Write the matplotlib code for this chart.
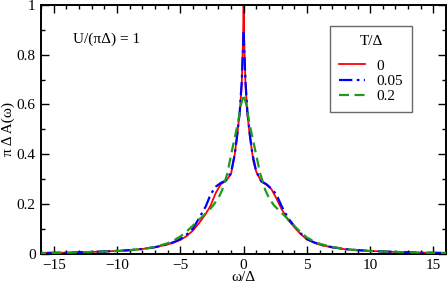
import matplotlib
matplotlib.use("Agg")
import matplotlib.pyplot as plt
from matplotlib.ticker import MultipleLocator, FixedLocator

plt.rcParams["font.family"] = ["Liberation Serif", "DejaVu Serif"]

# spectral function data
w_t0 = [-16, -14, -12, -10, -9, -8, -7, -6, -5.5, -5, -4.5, -4, -3.5, -3, -2.6, -2.2, -1.8,
        -1.4, -1.0, -0.7, -0.5, -0.3, -0.15, -0.05, 0,
        0.05, 0.15, 0.3, 0.5, 0.78, 1.0, 1.4, 1.8, 2.2, 2.6, 3.0, 3.5, 4.0, 4.5, 5, 5.5, 6,
        7, 8, 9, 10, 12, 14, 16]
a_t0 = [0.004, 0.005, 0.008, 0.012, 0.015, 0.020, 0.027, 0.038, 0.046, 0.056, 0.072, 0.094,
        0.125, 0.160, 0.195, 0.245, 0.280, 0.293, 0.320, 0.400, 0.480, 0.570, 0.680, 0.850, 1.0,
        0.850, 0.680, 0.560, 0.470, 0.370, 0.330, 0.290, 0.278, 0.260, 0.222, 0.180, 0.137,
        0.108, 0.080, 0.058, 0.047, 0.037, 0.026, 0.019, 0.015, 0.012, 0.008, 0.005, 0.004]

w_t005 = [-16, -14, -12, -10, -9, -8, -7, -6, -5.5, -5, -4.5, -4, -3.5, -3, -2.6, -2.2, -1.8,
          -1.4, -1.0, -0.7, -0.5, -0.3, -0.15, -0.05, 0,
          0.05, 0.15, 0.3, 0.5, 0.7, 1.0, 1.4, 1.8, 2.2, 2.6, 3.0, 3.5, 4.0, 4.5, 5, 5.5, 6,
          7, 8, 9, 10, 12, 14, 16]
a_t005 = [0.004, 0.005, 0.008, 0.012, 0.015, 0.020, 0.027, 0.039, 0.048, 0.060, 0.078, 0.102,
          0.145, 0.190, 0.240, 0.270, 0.285, 0.295, 0.325, 0.400, 0.480, 0.575, 0.690, 0.820, 0.89,
          0.820, 0.690, 0.570, 0.475, 0.400, 0.330, 0.292, 0.280, 0.262, 0.238, 0.192, 0.145,
          0.112, 0.083, 0.060, 0.048, 0.038, 0.027, 0.020, 0.015, 0.012, 0.008, 0.005, 0.004]

w_t02 = [-16, -14, -12, -10, -9, -8, -7, -6, -5.5, -5, -4.5, -4, -3.6, -3.2, -2.8, -2.4, -2.0,
         -1.7, -1.3, -0.9, -0.6, -0.4, -0.25, -0.1, 0,
         0.1, 0.25, 0.4, 0.6, 0.9, 1.3, 1.7, 2.0, 2.4, 2.8, 3.2, 3.6, 4.0, 4.5, 5, 5.5, 6,
         7, 8, 9, 10, 12, 14, 16]
a_t02 = [0.004, 0.005, 0.008, 0.012, 0.015, 0.020, 0.028, 0.043, 0.055, 0.070, 0.090, 0.114,
         0.135, 0.152, 0.172, 0.195, 0.224, 0.256, 0.320, 0.420, 0.490, 0.540, 0.590, 0.620, 0.63,
         0.620, 0.590, 0.540, 0.490, 0.420, 0.325, 0.258, 0.225, 0.195, 0.175, 0.155, 0.135,
         0.112, 0.088, 0.066, 0.052, 0.041, 0.028, 0.020, 0.015, 0.012, 0.008, 0.005, 0.004]

x_ticks = [-15, -10, -5, 0, 5, 10, 15]
y_ticks = [0, 0.2, 0.4, 0.6, 0.8, 1.0]
y_labels = ["0", "0.2", "0.4", "0.6", "0.8", "1"]

FS = 11

fig = plt.figure(figsize=(4.47, 2.85), dpi=100)
ax = fig.add_axes([0.092, 0.109, 0.906, 0.874])


def plot_from_peak(w, a, **kw):
    # draw each half starting at the peak so the dash pattern shows the tip
    i = a.index(max(a))
    label = kw.pop("label")
    ax.plot(w[:i + 1][::-1], a[:i + 1][::-1], label=label, **kw)
    ax.plot(w[i:], a[i:], **kw)


ax.plot(w_t0, a_t0, color="#ff0000", lw=1.3, label="0", zorder=1)
plot_from_peak(w_t005, a_t005, color="#0000ff", lw=1.6, dashes=(6, 2, 1.2, 2), label="0.05", zorder=2)
plot_from_peak(w_t02, a_t02, color="#1f9a1f", lw=1.6, dashes=(4.5, 2.5), label="0.2", zorder=3)

ax.set_xlim(-16, 16)
ax.set_ylim(0, 1)
ax.xaxis.set_major_locator(FixedLocator(x_ticks))
ax.xaxis.set_minor_locator(MultipleLocator(1))
ax.set_yticks(y_ticks)
ax.set_yticklabels(y_labels)
ax.yaxis.set_minor_locator(MultipleLocator(0.1))
ax.tick_params(which="both", direction="in", top=True, right=True, labelsize=FS, width=1, pad=4)
ax.tick_params(which="major", length=6)
ax.tick_params(which="minor", length=3)
for s in ax.spines.values():
    s.set_linewidth(1.4)

ax.set_xlabel("ω/Δ", fontsize=FS, labelpad=-1)
ax.set_ylabel("π Δ A(ω)", fontsize=FS, labelpad=1)
ax.text(-13.45, 0.86, "U/(πΔ) = 1", fontsize=FS, va="center")

leg = ax.legend(title="T/Δ", loc="upper left", bbox_to_anchor=(0.714, 0.916), borderaxespad=0,
                fontsize=FS, title_fontsize=FS, frameon=True, fancybox=False, edgecolor="#444444",
                handlelength=1.65, borderpad=0.6, labelspacing=0.1, handletextpad=0.75)
leg.get_frame().set_linewidth(1.0)
leg._legend_box.sep = 8

fig.savefig("out.png", dpi=100)
